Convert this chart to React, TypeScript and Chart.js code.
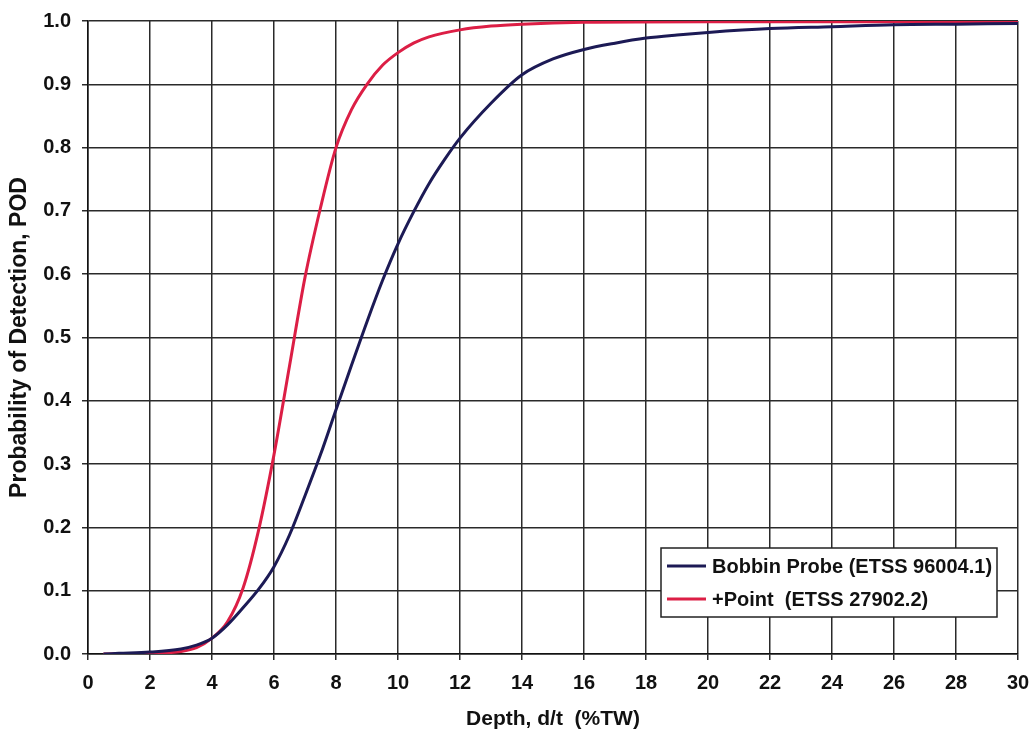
import React, { useEffect, useRef } from "react";
import { Chart, registerables } from "chart.js";

Chart.register(...registerables);

const bobbinX = [0.5, 1, 2, 3, 3.5, 4, 4.5, 5, 5.5, 6, 6.5, 7, 7.5, 8, 8.5, 9, 9.5, 10, 10.5, 11, 11.5, 12, 13, 14, 15, 16, 17, 18, 19, 20, 22, 24, 26, 28, 30];
const bobbinY = [0.0, 0.001, 0.003, 0.008, 0.014, 0.025, 0.046, 0.073, 0.102, 0.138, 0.188, 0.25, 0.315, 0.386, 0.456, 0.525, 0.59, 0.648, 0.698, 0.743, 0.781, 0.815, 0.87, 0.915, 0.94, 0.955, 0.965, 0.973, 0.978, 0.982, 0.988, 0.991, 0.994, 0.995, 0.996];

const pointX = [0.5, 1, 2, 3, 3.5, 4, 4.5, 5, 5.5, 6, 6.5, 7, 7.5, 8, 8.5, 9, 9.5, 10, 10.5, 11, 12, 13, 14, 16, 20, 25, 30];
const pointY = [0.0, 0.0005, 0.001, 0.004, 0.01, 0.025, 0.051, 0.104, 0.195, 0.315, 0.455, 0.595, 0.705, 0.80, 0.86, 0.90, 0.93, 0.95, 0.965, 0.975, 0.986, 0.992, 0.995, 0.998, 0.999, 0.999, 0.999];

const seriesNames = ["Bobbin Probe (ETSS 96004.1)", "+Point  (ETSS 27902.2)"];
const seriesColors = ["#1c1a55", "#dc1e45"];

const xTitle = "Depth, d/t  (%TW)";
const yTitle = "Probability of Detection, POD";

const FONT = "'Liberation Sans', Arial, sans-serif";

const legendPlugin = {
  id: "boxLegend",
  afterDraw(chart: any) {
    const { ctx, chartArea } = chart;
    const right = chartArea.right - 21;
    const bottom = chartArea.bottom - 37;
    const w = 336;
    const h = 69;
    const left = right - w;
    const top = bottom - h;
    ctx.save();
    ctx.fillStyle = "#ffffff";
    ctx.fillRect(left, top, w, h);
    ctx.strokeStyle = "#222";
    ctx.lineWidth = 1.5;
    ctx.strokeRect(left, top, w, h);
    ctx.font = `bold 20px ${FONT}`;
    ctx.textBaseline = "middle";
    ctx.textAlign = "left";
    const rows = [top + 18, top + 51];
    seriesNames.forEach((name, i) => {
      ctx.strokeStyle = seriesColors[i];
      ctx.lineWidth = 3;
      ctx.beginPath();
      ctx.moveTo(left + 6, rows[i]);
      ctx.lineTo(left + 45, rows[i]);
      ctx.stroke();
      ctx.fillStyle = "#111";
      ctx.fillText(name, left + 51, rows[i] + 1);
    });
    ctx.restore();
  },
};

export default function App() {
  const ref = useRef<HTMLCanvasElement | null>(null);
  useEffect(() => {
    document.body.style.margin = "0";
    const canvas = ref.current;
    if (!canvas) return;
    const chart = new Chart(canvas, {
      type: "line",
      data: {
        datasets: [
          {
            label: seriesNames[0],
            data: bobbinX.map((x, i) => ({ x, y: bobbinY[i] })),
            borderColor: seriesColors[0],
            borderWidth: 3,
            pointRadius: 0,
            cubicInterpolationMode: "monotone",
            fill: false,
          },
          {
            label: seriesNames[1],
            data: pointX.map((x, i) => ({ x, y: pointY[i] })),
            borderColor: seriesColors[1],
            borderWidth: 3,
            pointRadius: 0,
            cubicInterpolationMode: "monotone",
            fill: false,
          },
        ],
      },
      options: {
        responsive: false,
        animation: false,
        layout: { padding: { top: 21, right: 15, left: 0, bottom: 0 } },
        plugins: { legend: { display: false }, tooltip: { enabled: false } },
        scales: {
          x: {
            type: "linear",
            min: 0,
            max: 30,
            ticks: { stepSize: 2, color: "#111", padding: 11, font: { family: FONT, size: 20, weight: "bold" } },
            grid: { color: "#2a2a2a", lineWidth: 1.5, tickLength: 6, tickColor: "#2a2a2a" },
            border: { color: "#111", width: 1.5 },
            title: { display: true, text: xTitle, color: "#111", font: { family: FONT, size: 21, weight: "bold" }, padding: { top: 0, bottom: 2 } },
            afterFit(scale: any) {
              scale.height = 80;
              scale.paddingRight = 0;
              scale.paddingLeft = 0;
            },
          },
          y: {
            min: 0,
            max: 1,
            ticks: {
              stepSize: 0.1,
              color: "#111",
              padding: 11,
              font: { family: FONT, size: 20, weight: "bold" },
              callback: (v: any) => Number(v).toFixed(1),
            },
            grid: { color: "#2a2a2a", lineWidth: 1.5, tickLength: 6, tickColor: "#2a2a2a" },
            border: { color: "#111", width: 1.5 },
            title: { display: true, text: yTitle, color: "#111", font: { family: FONT, size: 23, weight: "bold" }, padding: { top: 6, bottom: 0 } },
            afterFit(scale: any) {
              scale.width = 88;
              scale.paddingTop = 0;
              scale.paddingBottom = 0;
            },
          },
        },
      },
      plugins: [legendPlugin],
    });
    return () => chart.destroy();
  }, []);
  return <canvas ref={ref} width={1033} height={734} style={{ display: "block" }} />;
}
